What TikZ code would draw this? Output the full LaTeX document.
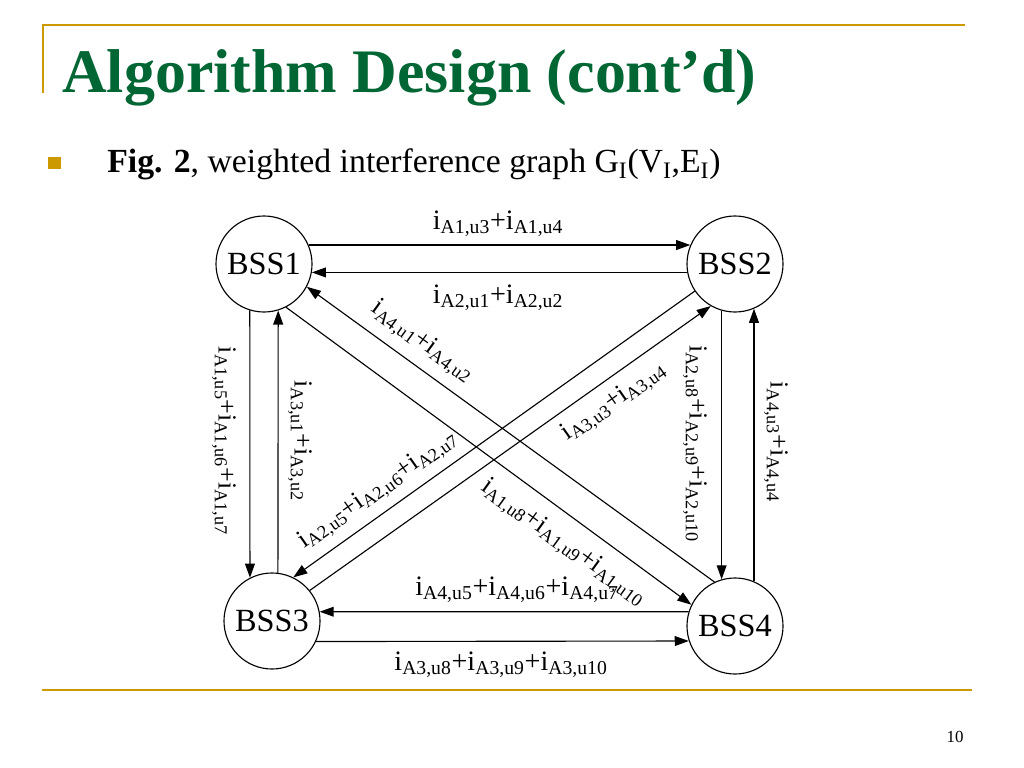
\documentclass[tikz,border=0pt]{standalone}
\usepackage{fontspec}
\setmainfont{Liberation Serif}
\usetikzlibrary{arrows.meta}
\definecolor{slidegold}{RGB}{204,153,0}
\definecolor{slidegreen}{RGB}{0,102,51}
\newcommand{\ia}[1]{i\textsubscript{#1}}

\begin{document}
\begin{tikzpicture}[x=0.025cm,y=-0.025cm,
    bss/.style={draw,circle,line width=0.8pt,minimum size=2.4cm,inner sep=0pt,font=\fontsize{23}{23}\selectfont},
    arr/.style={-{Triangle[length=10pt,width=7pt]},line width=0.8pt},
    lbl/.style={font=\fontsize{20}{20}\selectfont,inner sep=1pt},
    lblturn/.style={font=\fontsize{18.5}{18.5}\selectfont,inner sep=1pt}]
    \useasboundingbox[fill=white] (0,0) rectangle (1024,768);

    % slide frame
    \draw[slidegold,line width=1.4pt] (43,93) -- (43,25) -- (965,25);
    \draw[slidegold,line width=1.4pt] (42,690) -- (972,690);
    \node[anchor=base west,inner sep=0pt,text=slidegreen,font=\fontsize{44}{44}\selectfont\bfseries] (title) at (62,93) {Algorithm Design (cont’d)};
    \fill[slidegold] (48,157) rectangle (61,169);
    \node[anchor=base west,inner sep=0pt,font=\fontsize{24}{24}\selectfont] (caption) at (107,173) {\textbf{Fig. 2}, weighted interference graph G\textsubscript{I}(V\textsubscript{I},E\textsubscript{I})};
    \node[font=\fontsize{12}{12}\selectfont] (page) at (955,737) {10};

    % stations
    \node[bss] (bss1) at (264,264) {BSS1};
    \node[bss] (bss2) at (735,264) {BSS2};
    \node[bss] (bss3) at (272,621) {BSS3};
    \node[bss] (bss4) at (735,626) {BSS4};

    % interference edges
    \draw[arr] (bss1.23) -- (bss2.157);
    \draw[arr] (bss2.190) -- (bss1.-10);
    \draw[arr] (bss1.-107) -- (bss3.117);
    \draw[arr] (bss3.83) -- (bss1.-73);
    \draw[arr] (bss2.-106) -- (bss4.106);
    \draw[arr] (bss4.67) -- (bss2.-67);
    \draw[arr] (bss4.163) -- (bss3.11);
    \draw[arr] (bss3.-25) -- (bss4.198);
    \draw[arr] (bss1.-63) -- (bss4.154);
    \draw[arr] (bss4.115) -- (bss1.-28);
    \draw[arr] (bss3.39) -- (bss2.240);
    \draw[arr] (bss2.214) -- (bss3.64);

    % weights
    \node[lbl] (w12) at (498,224) {\ia{A1,u3}+\ia{A1,u4}};
    \node[lbl] (w21) at (498,298) {\ia{A2,u1}+\ia{A2,u2}};
    \node[lblturn,rotate=-90] (w13) at (224,441) {\ia{A1,u5}+\ia{A1,u6}+\ia{A1,u7}};
    \node[lblturn,rotate=-90] (w31) at (300,441) {\ia{A3,u1}+\ia{A3,u2}};
    \node[lblturn,rotate=-90] (w24) at (695,444) {\ia{A2,u8}+\ia{A2,u9}+\ia{A2,u10}};
    \node[lblturn,rotate=-90] (w42) at (776,442) {\ia{A4,u3}+\ia{A4,u4}};
    \node[lbl] (w43) at (517,590) {\ia{A4,u5}+\ia{A4,u6}+\ia{A4,u7}};
    \node[lbl] (w34) at (501,665) {\ia{A3,u8}+\ia{A3,u9}+\ia{A3,u10}};
    \node[lblturn,rotate=-36] (w41) at (422,342) {\ia{A4,u1}+\ia{A4,u2}};
    \node[lblturn,rotate=-36] (w14) at (563,543) {\ia{A1,u8}+\ia{A1,u9}+\ia{A1,u10}};
    \node[lblturn,rotate=35] (w32) at (614,402) {\ia{A3,u3}+\ia{A3,u4}};
    \node[lblturn,rotate=35] (w23) at (378,490) {\ia{A2,u5}+\ia{A2,u6}+\ia{A2,u7}};
\end{tikzpicture}
\end{document}
